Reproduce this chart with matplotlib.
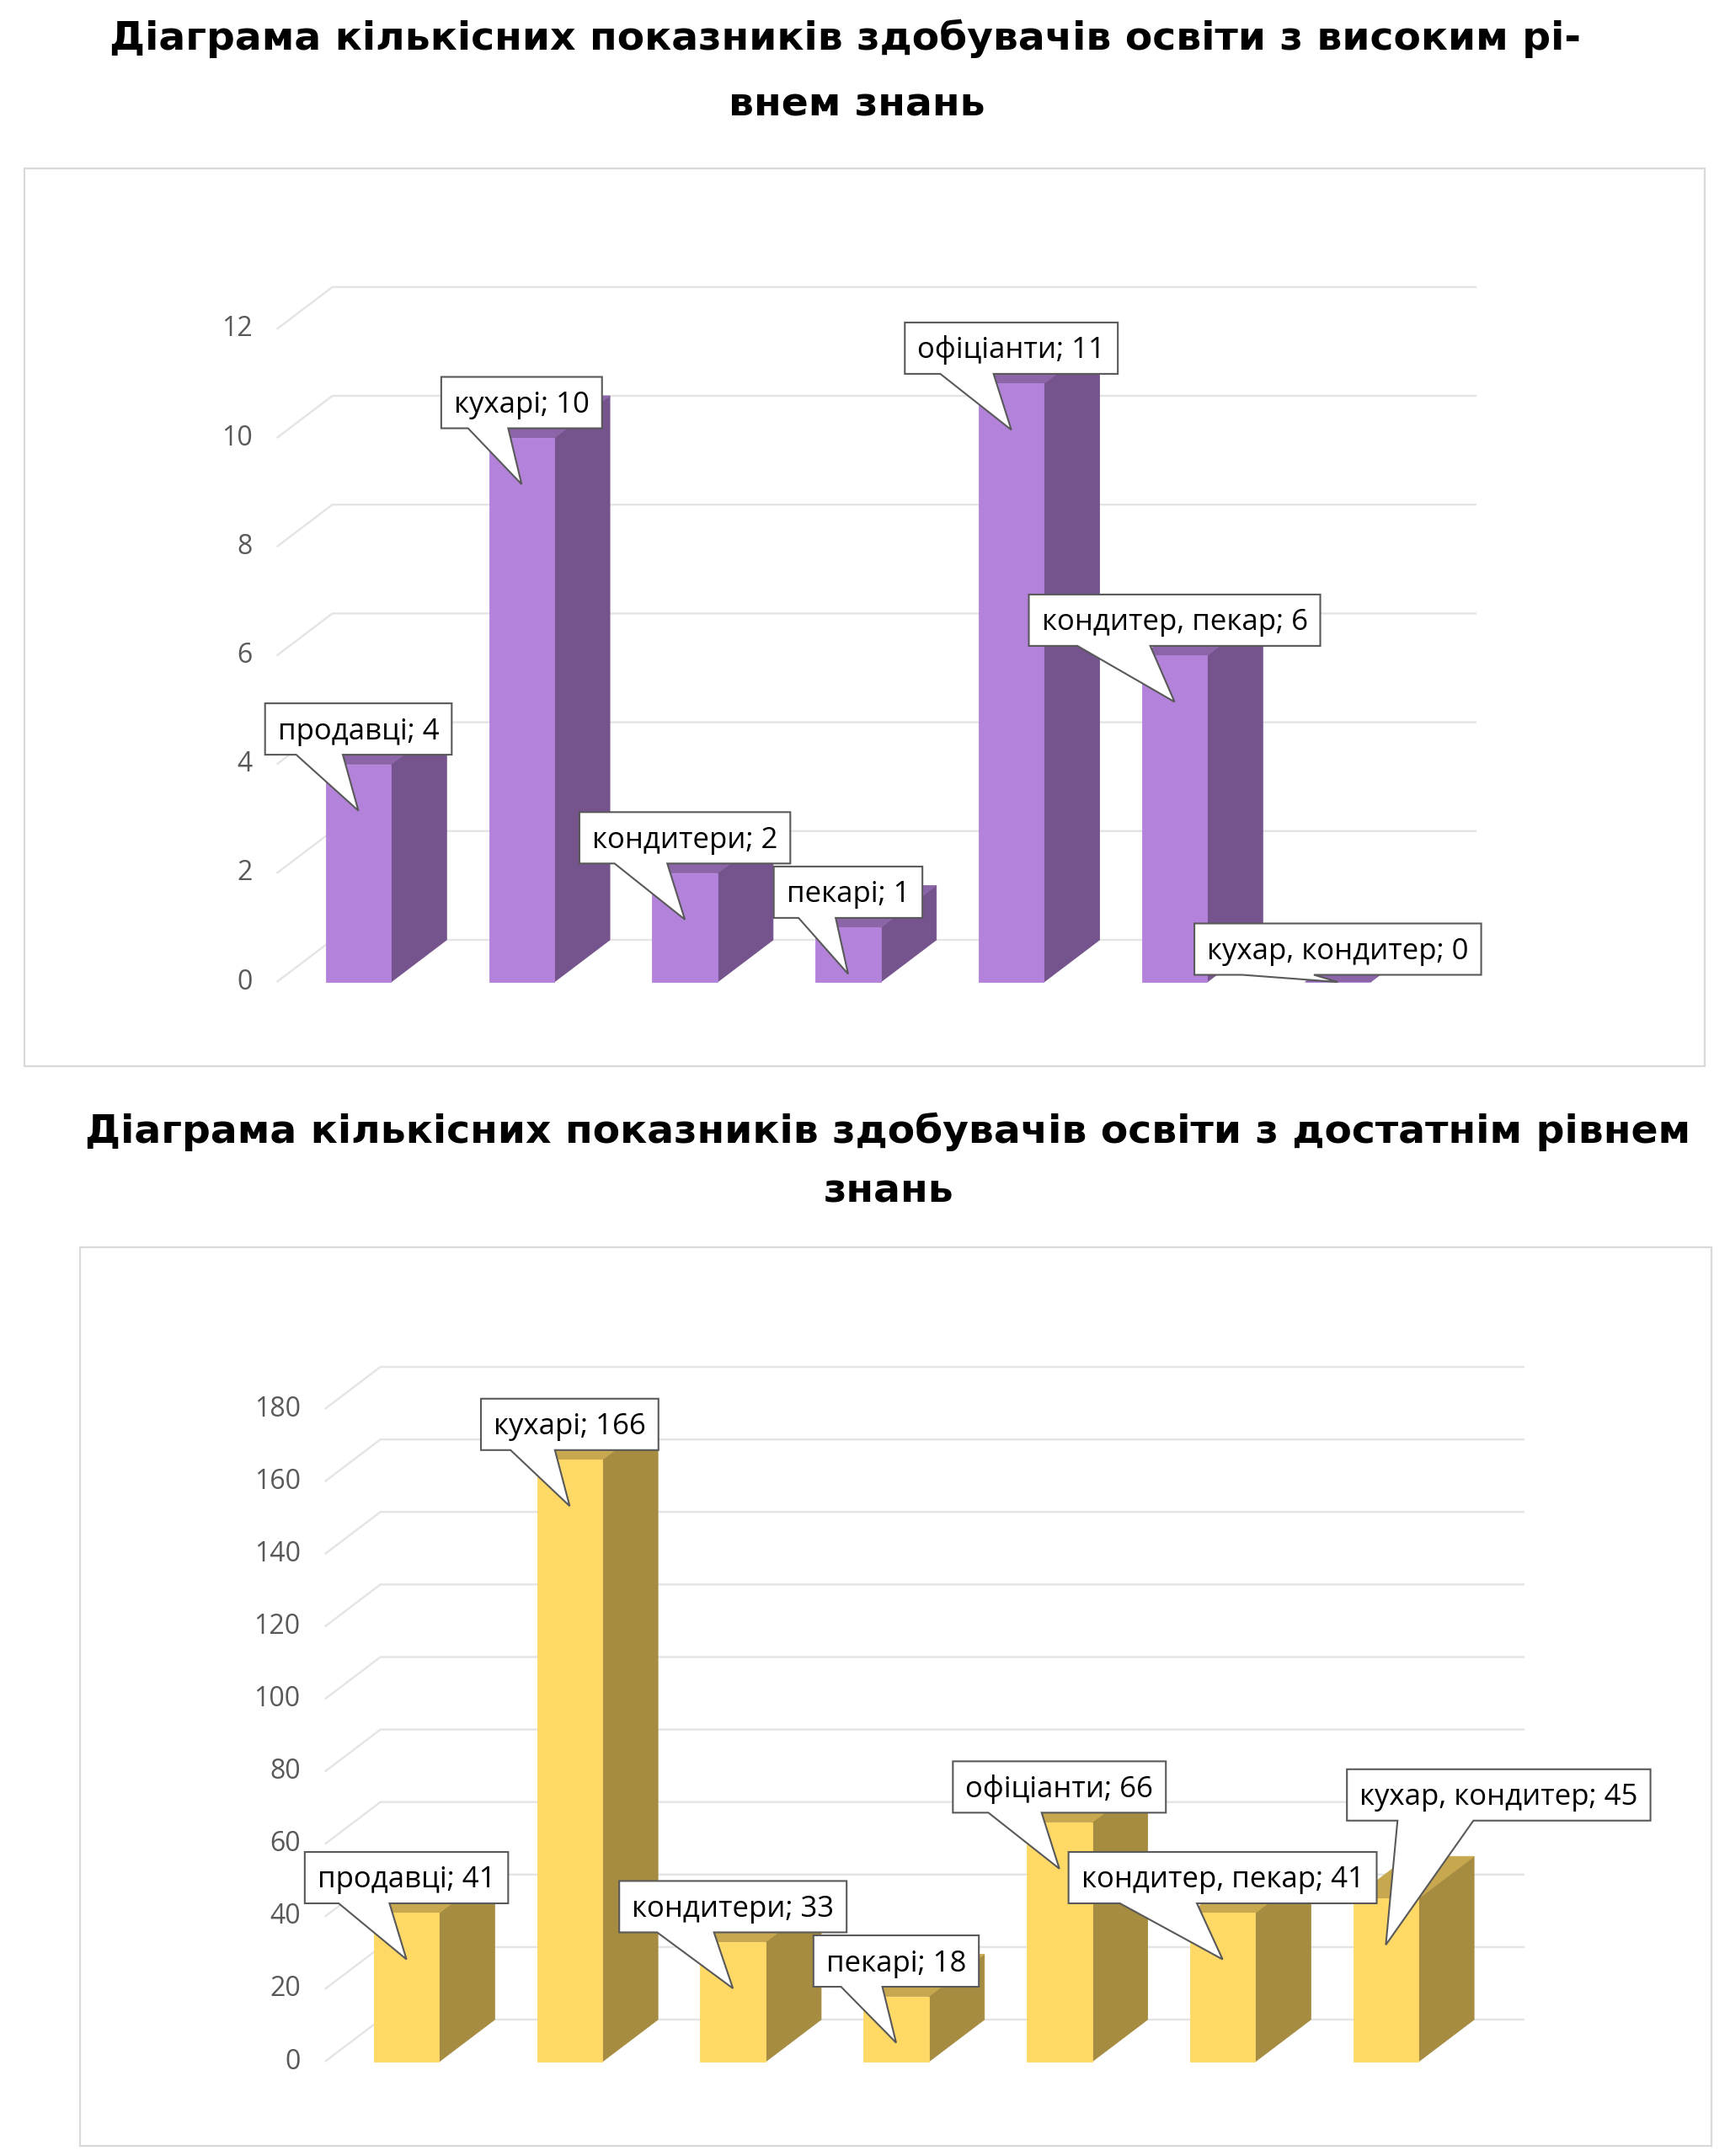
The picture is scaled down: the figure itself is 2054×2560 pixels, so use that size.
import matplotlib
matplotlib.use('Agg')
import matplotlib.pyplot as plt
from matplotlib.patches import Polygon, Rectangle

# ---- data ----
categories = ['продавці', 'кухарі', 'кондитери', 'пекарі',
              'офіціанти', 'кондитер, пекар', 'кухар, кондитер']

values_high = [4, 10, 2, 1, 11, 6, 0]
ticks_high = [0, 2, 4, 6, 8, 10, 12]
title_high = ['Діаграма кількісних показників здобувачів освіти з високим рі-',
              'внем знань']

values_ok = [41, 166, 33, 18, 66, 41, 45]
ticks_ok = [0, 20, 40, 60, 80, 100, 120, 140, 160, 180]
title_ok = ['Діаграма кількісних показників здобувачів освіти з достатнім рівнем',
            'знань']

# ---- layout (pixels of the 2054x2560 canvas) ----
W, H, DPI = 2054, 2560, 100
LABEL_FONT = ['Open Sans', 'DejaVu Sans']
TITLE_FONT = ['DejaVu Sans']

DEPTH_PX = (66, 50)      # oblique depth of bars / walls
BAR_W = 0.40             # front face width in category units
TIP_DROP = 55            # callout tip below the front top edge
BOX_H = 61
BOX_PAD = 15

charts = [
    dict(values=values_high, ticks=ticks_high, title=title_high,
         box=(29, 200, 2024, 1266), xlim=(-2.046, 8.248), ylim=(-1.548, 14.954),
         title_y=(59, 138), title_x=(1004, 1017),
         front='#B383DB', side='#75538C', top='#8C65A8',
         offsets=[(0, 97)] * 6 + [(0, 39)]),
    dict(values=values_ok, ticks=ticks_ok, title=title_ok,
         box=(95, 1481, 2032, 2548), xlim=(-2.0, 7.995), ylim=(-23.22, 224.6),
         title_y=(1357, 1427), title_x=(1054, 1055),
         front='#FFD966', side='#A68C41', top='#C8A84F',
         offsets=[(0, 97)] * 6 + [(134, 178)]),
]

fig = plt.figure(figsize=(W / DPI, H / DPI), dpi=DPI)
fig.patch.set_facecolor('white')
renderer = fig.canvas.get_renderer()


def draw_chart(c):
    l, t, r, b = c['box']
    ax = fig.add_axes([l / W, 1 - b / H, (r - l) / W, (b - t) / H])
    ax.set_xlim(*c['xlim'])
    ax.set_ylim(*c['ylim'])
    ax.axis('off')
    ax.add_patch(Rectangle((0, 0), 1, 1, transform=ax.transAxes, fill=False,
                           edgecolor='#D9D9D9', lw=1.6, clip_on=False))

    # depth offset in data units
    p0 = ax.transData.transform((0, 0))
    p1 = ax.transData.transform((1, 1))
    ddx = DEPTH_PX[0] / (p1[0] - p0[0])
    ddy = DEPTH_PX[1] / (p1[1] - p0[1])

    # walls gridlines + tick labels
    n = len(c['values'])
    x_front = -0.5
    x_end = n - 0.15
    for tk in c['ticks']:
        ax.plot([x_front, x_front + ddx, x_end], [tk, tk + ddy, tk + ddy],
                color='#E4E4E4', lw=1.7, solid_capstyle='butt', zorder=1)
        ax.text(x_front - 0.15, tk, str(tk), ha='right', va='center',
                fontsize=23, color='#595959', family=LABEL_FONT, zorder=2)

    # 3d bars
    for i, v in enumerate(c['values']):
        x0, x1 = i - BAR_W / 2, i + BAR_W / 2
        kw = dict(lw=0.6, zorder=3)
        ax.add_patch(Polygon([(x1, 0), (x1 + ddx, ddy), (x1 + ddx, v + ddy), (x1, v)],
                             fc=c['side'], ec=c['side'], **kw))
        ax.add_patch(Polygon([(x0, v), (x1, v), (x1 + ddx, v + ddy), (x0 + ddx, v + ddy)],
                             fc=c['top'], ec=c['top'], **kw))
        ax.add_patch(Rectangle((x0, 0), BAR_W, v, fc=c['front'], ec=c['front'], **kw))

    # callouts
    inv = ax.transData.inverted()
    base_y = ax.transData.transform((0, 0))[1]
    for i, (name, v) in enumerate(zip(categories, c['values'])):
        px, py = ax.transData.transform((i, v))
        tip = (px, max(py - TIP_DROP, base_y))
        ox, oy = c['offsets'][i]
        cx, cy = tip[0] + ox, tip[1] + oy
        tx, ty = inv.transform((cx, cy - 12))
        txt = ax.text(tx, ty, f'{name}; {v}', ha='center', va='baseline',
                      fontsize=25, color='black', family=LABEL_FONT, zorder=6)
        tw = txt.get_window_extent(renderer).width
        bw = tw + 2 * BOX_PAD
        bl, br = cx - bw / 2, cx + bw / 2
        bt, bb = cy + BOX_H / 2, cy - BOX_H / 2
        if tip[0] - cx > 0:
            w1, w2 = bl + bw * 7 / 12, bl + bw * 10 / 12
        else:
            w1, w2 = bl + bw * 2 / 12, bl + bw * 5 / 12
        pts = [(bl, bt), (br, bt), (br, bb), (w2, bb), tip, (w1, bb), (bl, bb)]
        ax.add_patch(Polygon(inv.transform(pts), closed=True, fc='white',
                             ec='#595959', lw=1.5, zorder=5, clip_on=False))

    # title (two lines, centred)
    for line, ypx, xpx in zip(c['title'], c['title_y'], c['title_x']):
        fig.text(xpx / W, 1 - ypx / H, line, ha='center', va='baseline',
                 fontsize=34, fontweight='bold', color='black', family=TITLE_FONT)


for c in charts:
    draw_chart(c)

fig.savefig('out.png', dpi=DPI, facecolor='white')
